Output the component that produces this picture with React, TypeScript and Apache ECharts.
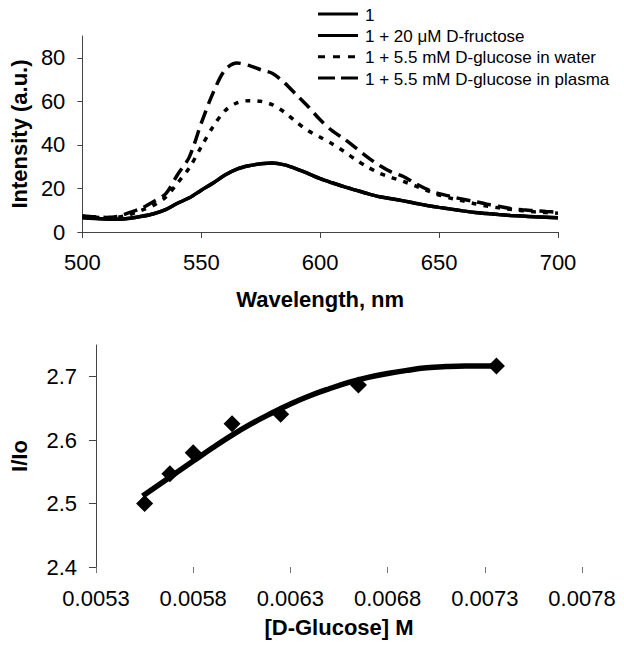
import React, { useEffect, useRef } from "react";
import * as echarts from "echarts";

// ---------- Top chart: emission spectra ----------
const wavelengths = [
  500, 505, 510, 515, 520, 525, 530, 535, 540, 545, 550, 555, 560, 565, 570, 575, 580, 585, 590, 595, 600,
  605, 610, 615, 620, 625, 630, 635, 640, 645, 650, 655, 660, 665, 670, 675, 680, 685, 690, 695, 700,
];

const intensityBase = [
  6.7, 6.3, 6.0, 5.9, 6.3, 7.2, 8.4, 10.3, 13.2, 15.7, 19.2, 22.5, 26.2, 28.9, 30.4, 31.3, 31.7, 30.8, 29.0, 26.8, 24.5,
  22.6, 20.8, 19.2, 17.6, 16.2, 15.3, 14.3, 13.2, 12.2, 11.3, 10.5, 9.7, 9.0, 8.5, 8.0, 7.6, 7.3, 7.0, 6.8, 6.6,
];

const intensityFructose = [
  6.5, 6.2, 6.0, 5.9, 6.3, 7.2, 8.4, 10.3, 13.2, 15.7, 19.2, 22.5, 26.2, 28.9, 30.4, 31.3, 31.7, 30.8, 29.0, 26.8, 24.5,
  22.6, 20.8, 19.2, 17.6, 16.2, 15.3, 14.3, 13.2, 12.2, 11.3, 10.5, 9.7, 9.0, 8.5, 8.0, 7.6, 7.3, 7.0, 6.8, 6.6,
];

const intensityWater = [
  7.0, 6.8, 6.6, 6.8, 8.0, 10.0, 12.3, 16.0, 22.5, 29.5, 39.2, 48.5, 55.7, 59.3, 60.3, 60.0, 58.4, 55.0, 50.5, 46.5, 43.5,
  40.5, 37.0, 33.2, 29.8, 27.0, 25.0, 23.2, 21.2, 19.0, 17.0, 15.5, 14.3, 13.0, 11.9, 11.1, 10.4, 9.8, 9.3, 8.9, 8.6,
];

const intensityPlasma = [
  7.5, 7.0, 6.7, 7.2, 9.0, 11.0, 14.0, 17.5, 26.3, 34.5, 50.0, 64.0, 74.5, 77.6, 76.5, 74.5, 72.8, 68.5, 63.0, 57.5, 51.5,
  46.5, 42.8, 38.6, 34.3, 30.5, 27.5, 25.5, 22.3, 19.6, 17.6, 16.3, 15.0, 14.0, 12.8, 11.8, 10.8, 10.2, 9.8, 9.4, 9.1,
];

const seriesNames = [
  "1",
  "1 + 20 \u03bcM D-fructose",
  "1 + 5.5 mM D-glucose in water",
  "1 + 5.5 mM D-glucose in plasma",
];
const seriesDashes: (number[] | null)[] = [null, null, [5, 7], [14, 7]];
const legendDashes: (number[] | null)[] = [null, null, [7, 8], [17, 6]];

const topXTicks = [500, 550, 600, 650, 700];
const topYTicks = [0, 20, 40, 60, 80];

// ---------- Bottom chart: I/Io vs [D-Glucose] ----------
const glucoseConc = [0.00555, 0.00568, 0.0058, 0.006, 0.00625, 0.00665, 0.00736];
const ratioValues = [2.5, 2.547, 2.58, 2.626, 2.641, 2.687, 2.717];

const fitConc = [
  0.00554, 0.0057, 0.0058, 0.0059, 0.006, 0.0061, 0.0062, 0.0063, 0.0064, 0.0065, 0.0066, 0.0067, 0.0068,
  0.0069, 0.007, 0.0071, 0.0072, 0.00735,
];
const fitRatio = [
  2.512, 2.546, 2.567, 2.588, 2.608, 2.626, 2.642, 2.657, 2.67, 2.681, 2.691, 2.699, 2.705, 2.71, 2.714,
  2.716, 2.717, 2.717,
];

const bottomXTicks = [0.0053, 0.0058, 0.0063, 0.0068, 0.0073, 0.0078];
const bottomYTicks = [2.4, 2.5, 2.6, 2.7];

const FONT = "'Liberation Sans', Arial, Helvetica, sans-serif";

function zip(xs: number[], ys: number[]) {
  return xs.map((x, i) => [x, ys[i]]);
}

export default function App() {
  const ref = useRef<HTMLDivElement>(null);

  useEffect(() => {
    if (!ref.current) return;
    const chart = echarts.init(ref.current, null, { renderer: "svg" });

    const axisLineStyle = { color: "#444", width: 1 };
    const labelStyle = { color: "#000", fontSize: 22, fontFamily: FONT };
    const nameStyle = { color: "#000", fontSize: 22, fontWeight: "bold" as const, fontFamily: FONT };

    const legendRowsY = [14, 35.5, 56.7, 78];
    const legendGraphics: any[] = [];
    seriesNames.forEach((name, i) => {
      const y = legendRowsY[i];
      legendGraphics.push({
        type: "line",
        shape: { x1: 318, y1: y, x2: 358, y2: y },
        style: { stroke: "#000", lineWidth: 3, lineDash: legendDashes[i] || undefined },
      });
      legendGraphics.push({
        type: "text",
        x: 365,
        y: y + 1,
        style: {
          text: name,
          fontSize: 17,
          fontFamily: FONT,
          fill: "#000",
          verticalAlign: "middle",
          align: "left",
        },
      });
    });

    const spectra = [intensityBase, intensityFructose, intensityWater, intensityPlasma];

    chart.setOption({
      animation: false,
      backgroundColor: "#fff",
      textStyle: { fontFamily: FONT },
      graphic: legendGraphics,
      grid: [
        { left: 82, top: 36, width: 476, height: 196 },
        { left: 89, top: 345, width: 493, height: 222 },
      ],
      xAxis: [
        {
          type: "value",
          gridIndex: 0,
          min: 500,
          max: 700,
          name: "Wavelength, nm",
          nameLocation: "middle",
          nameGap: 56,
          nameTextStyle: nameStyle,
          splitLine: { show: false },
          axisLine: { show: true, lineStyle: axisLineStyle },
          axisTick: { show: true, length: 6, lineStyle: axisLineStyle, customValues: topXTicks },
          axisLabel: { ...labelStyle, margin: 19, customValues: topXTicks },
        },
        {
          type: "value",
          gridIndex: 1,
          min: 0.0053,
          max: 0.0078,
          name: "[D-Glucose] M",
          nameLocation: "middle",
          nameGap: 49,
          nameTextStyle: nameStyle,
          splitLine: { show: false },
          axisLine: { show: false },
          axisTick: { show: true, length: 6, lineStyle: { color: "#777", width: 1 }, customValues: bottomXTicks },
          axisLabel: {
            ...labelStyle,
            margin: 20,
            customValues: bottomXTicks,
            formatter: (v: number) => v.toFixed(4),
          },
        },
      ],
      yAxis: [
        {
          type: "value",
          gridIndex: 0,
          min: 0,
          max: 90,
          name: "Intensity (a.u.)",
          nameLocation: "middle",
          nameGap: 52,
          nameTextStyle: nameStyle,
          splitLine: { show: false },
          axisLine: { show: true, lineStyle: axisLineStyle },
          axisTick: { show: true, length: 5, lineStyle: axisLineStyle, customValues: topYTicks },
          axisLabel: { ...labelStyle, margin: 17, customValues: topYTicks },
        },
        {
          type: "value",
          gridIndex: 1,
          min: 2.4,
          max: 2.75,
          name: "I/Io",
          nameLocation: "middle",
          nameGap: 66,
          nameTextStyle: nameStyle,
          splitLine: { show: false },
          axisLine: { show: true, lineStyle: axisLineStyle },
          axisTick: { show: true, length: 7, lineStyle: axisLineStyle, customValues: bottomYTicks },
          axisLabel: {
            ...labelStyle,
            margin: 19,
            customValues: bottomYTicks,
            formatter: (v: number) => v.toFixed(1),
          },
        },
      ],
      series: [
        ...spectra.map((vals, i) => ({
          name: seriesNames[i],
          type: "line",
          xAxisIndex: 0,
          yAxisIndex: 0,
          data: zip(wavelengths, vals),
          smooth: 0.3,
          symbol: "none",
          lineStyle: {
            color: "#000",
            width: 3.5,
            type: seriesDashes[i] || "solid",
            cap: "butt",
          },
          itemStyle: { color: "#000" },
        })),
        {
          name: "fit",
          type: "line",
          xAxisIndex: 1,
          yAxisIndex: 1,
          data: zip(fitConc, fitRatio),
          smooth: 0.4,
          symbol: "none",
          lineStyle: { color: "#000", width: 5.5 },
          z: 2,
        },
        {
          name: "data",
          type: "scatter",
          xAxisIndex: 1,
          yAxisIndex: 1,
          data: zip(glucoseConc, ratioValues),
          symbol: "diamond",
          symbolSize: [17, 17],
          itemStyle: { color: "#000", opacity: 1 },
          z: 3,
        },
      ],
    });

    return () => chart.dispose();
  }, []);

  return (
    <div
      ref={ref}
      style={{ position: "fixed", left: 0, top: 0, width: 624, height: 649, background: "#fff" }}
    />
  );
}
